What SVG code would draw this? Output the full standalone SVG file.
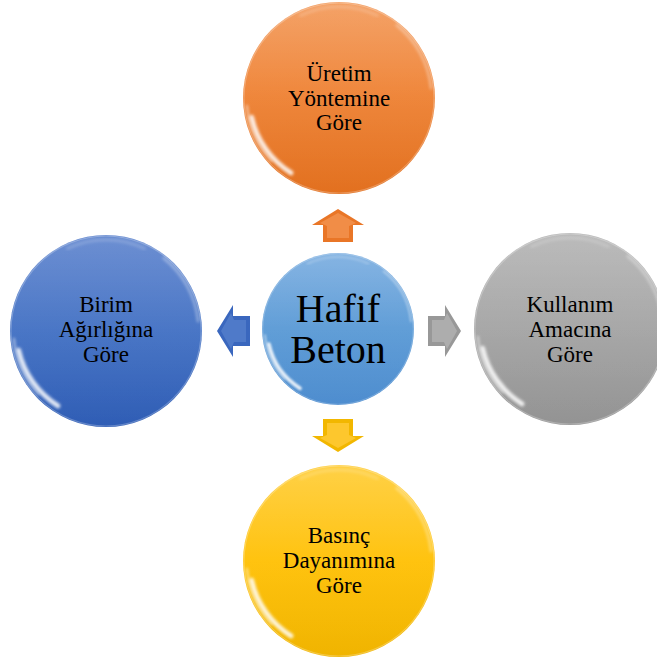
<svg xmlns="http://www.w3.org/2000/svg" width="657" height="664" viewBox="0 0 657 664">
<style>
.t{font-family:"Liberation Serif","Times New Roman",serif;font-size:23px;fill:#000;text-anchor:middle}
.c{font-family:"Liberation Serif","Times New Roman",serif;font-size:40px;fill:#000;text-anchor:middle}
.rim{fill:none;stroke:#fff;stroke-opacity:.25;stroke-width:1.2}
</style>
<defs>
<linearGradient id="gO" x1="0" y1="0" x2="0" y2="1"><stop offset="0" stop-color="#F2934F"/><stop offset=".45" stop-color="#EF8437"/><stop offset="1" stop-color="#E2701F"/></linearGradient>
<linearGradient id="gC" x1="0" y1="0" x2="0" y2="1"><stop offset="0" stop-color="#72A8DE"/><stop offset=".5" stop-color="#5C9BD6"/><stop offset="1" stop-color="#4E8DCF"/></linearGradient>
<linearGradient id="gB" x1="0" y1="0" x2="0" y2="1"><stop offset="0" stop-color="#557DCB"/><stop offset=".5" stop-color="#4472C4"/><stop offset="1" stop-color="#2F5DB5"/></linearGradient>
<linearGradient id="gG" x1="0" y1="0" x2="0" y2="1"><stop offset="0" stop-color="#B0B0B0"/><stop offset=".5" stop-color="#A5A5A5"/><stop offset="1" stop-color="#939393"/></linearGradient>
<linearGradient id="gY" x1="0" y1="0" x2="0" y2="1"><stop offset="0" stop-color="#FFC928"/><stop offset=".5" stop-color="#FFC108"/><stop offset="1" stop-color="#F0B400"/></linearGradient>
<linearGradient id="shine" x1="0" y1="0" x2="0" y2="1"><stop offset="0" stop-color="#fff" stop-opacity=".14"/><stop offset=".5" stop-color="#fff" stop-opacity=".03"/><stop offset="1" stop-color="#fff" stop-opacity="0"/></linearGradient>
<filter id="bl" x="-20%" y="-20%" width="140%" height="140%"><feGaussianBlur stdDeviation="1.6"/></filter>
<g id="gloss">
<circle r="100" fill="url(#shine)"/>
<path d="M -91,20 A 93 93 0 0 0 -50,78" fill="none" stroke="#fff" stroke-width="5" stroke-linecap="round" opacity=".85" filter="url(#bl)"/>
<path d="M -96,8 A 97 97 0 0 0 -70,66" fill="none" stroke="#fff" stroke-width="2" stroke-linecap="round" opacity=".6" filter="url(#bl)"/>
<path d="M 60,-76 A 97 97 0 0 1 96,-10" fill="none" stroke="#fff" stroke-width="2.5" stroke-linecap="round" opacity=".4" filter="url(#bl)"/>
<path d="M -40,-86 A 94 94 0 0 1 40,-86" fill="none" stroke="#fff" stroke-width="3" stroke-linecap="round" opacity=".2" filter="url(#bl)"/>
<circle r="99" class="rim"/>
</g>
<polygon id="arr" points="0,0 26,16 15,16 15,33 -15,33 -15,16 -26,16"/>
<polygon id="arrIn" points="0,4 18,14 11,17 11,29 -11,29 -11,17 -18,14"/>
</defs>

<g id="connectors">
<g transform="translate(338,209)"><use href="#arr" fill="#E97627"/><use href="#arrIn" fill="#F39450" opacity=".8"/></g>
<g transform="translate(338,452) rotate(180)"><use href="#arr" fill="#F2B700"/><use href="#arrIn" fill="#FFCB38" opacity=".8"/></g>
<g transform="translate(217,331) rotate(-90)"><use href="#arr" fill="#3A67BE"/><use href="#arrIn" fill="#557FCC" opacity=".8"/></g>
<g transform="translate(461,331) rotate(90)"><use href="#arr" fill="#989898"/><use href="#arrIn" fill="#B3B3B3" opacity=".8"/></g>
</g>

<g id="node-uretim">
<circle cx="339" cy="98" r="96" fill="url(#gO)"/>
<use href="#gloss" transform="translate(339,98) scale(0.96)"/>
<text class="t" x="339" y="81">Üretim</text>
<text class="t" x="339" y="105.5">Yöntemine</text>
<text class="t" x="339" y="130">Göre</text>
</g>

<g id="node-birim">
<circle cx="106" cy="331" r="96" fill="url(#gB)"/>
<use href="#gloss" transform="translate(106,331) scale(0.96)"/>
<text class="t" x="106" y="312">Birim</text>
<text class="t" x="106" y="337">Ağırlığına</text>
<text class="t" x="106" y="362">Göre</text>
</g>

<g id="node-kullanim">
<circle cx="570" cy="329" r="96" fill="url(#gG)"/>
<use href="#gloss" transform="translate(570,329) scale(0.96)"/>
<text class="t" x="570" y="312">Kullanım</text>
<text class="t" x="570" y="337">Amacına</text>
<text class="t" x="570" y="362">Göre</text>
</g>

<g id="node-basinc">
<circle cx="339" cy="561" r="96" fill="url(#gY)"/>
<use href="#gloss" transform="translate(339,561) scale(0.96)"/>
<text class="t" x="339" y="543">Basınç</text>
<text class="t" x="339" y="568">Dayanımına</text>
<text class="t" x="339" y="593">Göre</text>
</g>

<g id="node-hafif-beton">
<circle cx="338" cy="329" r="76" fill="url(#gC)"/>
<use href="#gloss" transform="translate(338,329) scale(0.76)"/>
<text class="c" x="338" y="322">Hafif</text>
<text class="c" x="338" y="363">Beton</text>
</g>
</svg>
